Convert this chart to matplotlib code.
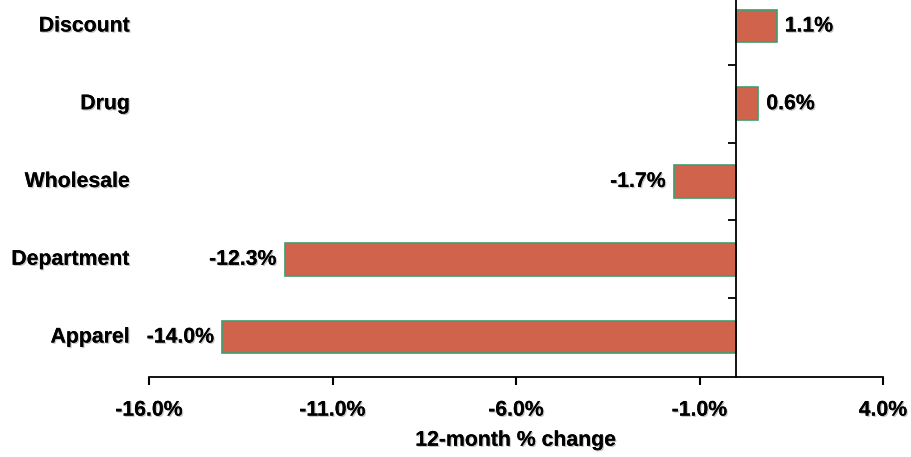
import matplotlib.pyplot as plt
import matplotlib.patheffects as pe
import numpy as np

# Data
categories = ["Apparel", "Department", "Wholesale", "Drug", "Discount"]
changes = [-14.0, -12.3, -1.7, 0.6, 1.1]
x_ticks = [-16, -11, -6, -1, 4]
x_tick_labels = ["-16.0%", "-11.0%", "-6.0%", "-1.0%", "4.0%"]

BAR_COLOR = "#D0634B"
EDGE_COLOR = "#3D9E6E"
FONT = "Liberation Sans"
FS = 15.3
shadow = [pe.withSimplePatchShadow(offset=(0.9, -0.9), shadow_rgbFace="gray", alpha=0.45), pe.Normal()]

fig = plt.figure(figsize=(9.11, 4.57), dpi=100)
ax = fig.add_axes([149 / 911, 80 / 457, 734 / 911, 377 / 457])

y = np.arange(len(categories))
ax.barh(y, changes, height=0.42, color=BAR_COLOR, edgecolor=EDGE_COLOR, linewidth=1.2, zorder=2)

ax.set_xlim(-16, 4)
ax.set_ylim(-0.514, 4.334)

# spines
for s in ["top", "right"]:
    ax.spines[s].set_visible(False)
ax.spines["left"].set_position(("data", 0))
ax.spines["left"].set_linewidth(1.3)
ax.spines["left"].set_zorder(3)
ax.spines["bottom"].set_linewidth(1.3)

# x axis
ax.set_xticks(x_ticks)
ax.set_xticklabels(x_tick_labels)
ax.tick_params(axis="x", length=6, width=1.5, pad=11, labelsize=FS)
for lbl in ax.get_xticklabels():
    lbl.set_fontfamily(FONT)
    lbl.set_fontweight("bold")
    lbl.set_path_effects(shadow)

# y axis: only the small separator ticks on the zero line
ax.set_yticks([])
ax.set_yticks(y[:-1] + 0.5, minor=True)
ax.tick_params(axis="y", which="minor", length=6, width=1.3, labelleft=False)

# category labels
for yi, name in zip(y, categories):
    ax.text(-0.026, yi, name, transform=ax.get_yaxis_transform(), ha="right", va="center",
            fontsize=FS, fontweight="bold", fontfamily=FONT, path_effects=shadow)

# value labels
for yi, v in zip(y, changes):
    off = 0.22 if v >= 0 else -0.22
    ax.text(v + off, yi, f"{v:.1f}%", ha="left" if v >= 0 else "right", va="center",
            fontsize=FS, fontweight="bold", fontfamily=FONT, path_effects=shadow)

ax.set_xlabel("12-month % change", fontsize=FS, fontweight="bold", fontfamily=FONT,
              labelpad=8, path_effects=shadow)

fig.savefig("out.png", dpi=100)
